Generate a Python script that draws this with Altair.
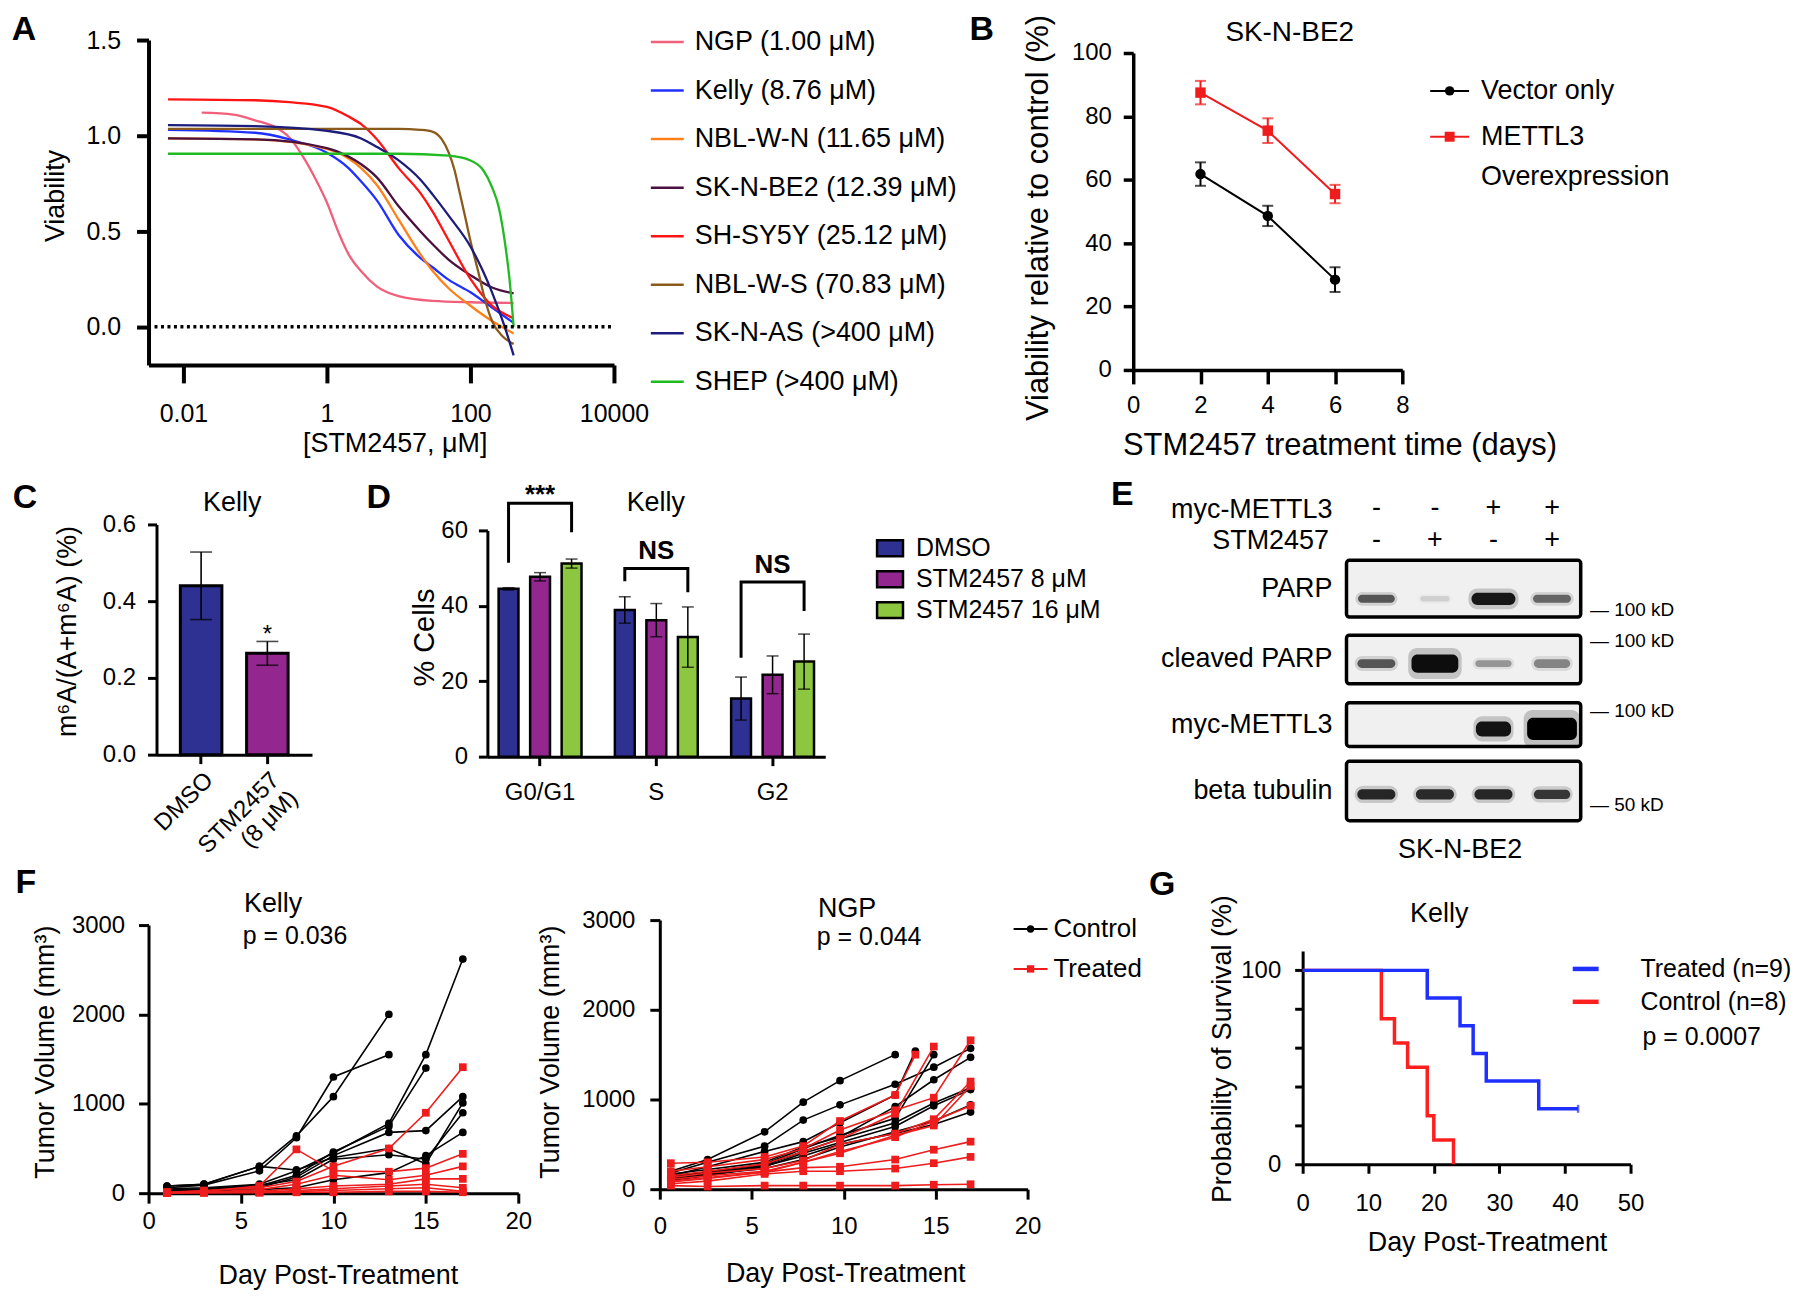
import altair as alt
import pandas as pd

FONT = "Liberation Sans"
ORIGIN = 8
ROW_W = 1625

# ===================== Panel A : dose-response =====================
a_names = ["NGP (1.00 μM)", "Kelly (8.76 μM)", "NBL-W-N (11.65 μM)", "SK-N-BE2 (12.39 μM)",
           "SH-SY5Y (25.12 μM)", "NBL-W-S (70.83 μM)", "SK-N-AS (>400 μM)", "SHEP (>400 μM)"]
a_colors = ["#f0607a", "#2030ff", "#ff8018", "#4a1040", "#ff1414", "#8a5a1c", "#1c1c7c", "#20bb20"]

ngp_dose = [0.018, 0.05, 0.1, 0.2, 0.3, 0.5, 0.7, 1, 1.5, 2, 3, 5, 10, 30, 100, 400]
ngp_via = [1.12, 1.11, 1.08, 1.04, 0.99, 0.87, 0.77, 0.65, 0.48, 0.38, 0.29, 0.21, 0.16, 0.135, 0.128, 0.125]
kelly_dose = [0.0061, 0.1, 0.3, 1, 2, 3, 5, 10, 20, 30, 50, 100, 200, 400]
kelly_via = [1.03, 1.015, 0.98, 0.91, 0.83, 0.76, 0.66, 0.48, 0.36, 0.31, 0.245, 0.18, 0.10, 0.02]
nblwn_dose = [0.0061, 0.1, 1, 2, 3, 5, 10, 20, 30, 50, 100, 200, 400]
nblwn_via = [0.985, 0.98, 0.93, 0.88, 0.83, 0.74, 0.56, 0.38, 0.29, 0.20, 0.11, 0.03, -0.035]
skbe2_dose = [0.0061, 0.1, 1, 2, 3, 5, 10, 20, 30, 50, 100, 200, 400]
skbe2_via = [0.985, 0.98, 0.935, 0.89, 0.85, 0.78, 0.63, 0.50, 0.43, 0.35, 0.27, 0.205, 0.175]
shsy_dose = [0.0061, 0.1, 0.3, 1, 2, 3, 5, 10, 20, 30, 50, 100, 200, 400]
shsy_via = [1.19, 1.185, 1.175, 1.15, 1.10, 1.06, 0.98, 0.83, 0.70, 0.60, 0.45, 0.25, 0.11, 0.045]
nblws_dose = [0.0061, 1, 10, 20, 30, 40, 50, 60, 70, 85, 100, 130, 160, 200, 280, 400]
nblws_via = [1.035, 1.035, 1.035, 1.03, 1.02, 0.98, 0.91, 0.82, 0.71, 0.57, 0.45, 0.28, 0.14, 0.03, -0.05, -0.09]
sknas_dose = [0.0061, 0.1, 1, 3, 5, 10, 20, 30, 50, 100, 150, 200, 300, 400]
sknas_via = [1.055, 1.05, 1.025, 0.985, 0.94, 0.87, 0.77, 0.69, 0.58, 0.42, 0.29, 0.18, 0.0, -0.15]
shep_dose = [0.0061, 10, 50, 100, 150, 200, 250, 300, 350, 400]
shep_via = [0.905, 0.905, 0.895, 0.87, 0.82, 0.73, 0.62, 0.45, 0.25, 0.0]
a_doses = [ngp_dose, kelly_dose, nblwn_dose, skbe2_dose, shsy_dose, nblws_dose, sknas_dose, shep_dose]
a_vias = [ngp_via, kelly_via, nblwn_via, skbe2_via, shsy_via, nblws_via, sknas_via, shep_via]

# ===================== Panel B =====================
b_days = [2, 4, 6]
b_vector = [61.8, 48.6, 28.5]
b_vector_err = [3.7, 3.2, 3.9]
b_mettl3 = [87.5, 75.5, 55.5]
b_mettl3_err = [3.7, 3.9, 2.9]

# ===================== Panel C =====================
c_groups = ["DMSO", "STM2457|(8 μM)"]
c_values = [0.44, 0.264]
c_err = [0.088, 0.031]
c_colors = ["#2e3192", "#93278f"]

# ===================== Panel D =====================
d_phases = ["G0/G1", "S", "G2"]
d_treats = ["DMSO", "STM2457 8 μM", "STM2457 16 μM"]
d_colors = ["#2e3192", "#93278f", "#8dc63f"]
d_values = [[44.5, 38.9, 15.4], [47.7, 36.2, 21.7], [51.2, 31.7, 25.2]]
d_err = [[0.3, 3.5, 5.7], [1.1, 4.4, 5.0], [1.2, 8.0, 7.3]]
d_sig = ["***", "NS", "NS"]
d_sig_y = [69.5, 54.4, 50.9]
d_bracket_top = [67.2, 49.9, 46.3]
d_bracket_left = [51.4, 46.5, 26.2]
d_bracket_right = [59.5, 43.6, 38.6]

# ===================== Panel E (western blot) =====================
e_rows = ["PARP", "cleaved PARP", "myc-METTL3", "beta tubulin"]
e_frame = [0.49, 4.49]
e_box_mid = [0.0, 1.05, 2.015, 3.0]
e_box_half = [0.42, 0.36, 0.325, 0.44]
e_band_mid = [0.15, 1.11, 2.08, 3.05]
e_lanes = [1, 2, 3, 4]
e_myc = ["-", "-", "+", "+"]
e_stm = ["-", "+", "-", "+"]
e_intensity = [[0.62, 0.12, 0.92, 0.55], [0.62, 0.96, 0.35, 0.42], [0.0, 0.0, 0.94, 1.0], [0.84, 0.82, 0.84, 0.76]]
e_band_w = [[0.63, 0.5, 0.75, 0.65], [0.65, 0.8, 0.62, 0.62], [0.0, 0.0, 0.6, 0.85], [0.65, 0.65, 0.65, 0.62]]
e_band_h = [[0.12, 0.08, 0.18, 0.12], [0.13, 0.27, 0.10, 0.13], [0.0, 0.0, 0.22, 0.33], [0.15, 0.15, 0.15, 0.14]]
e_kd_text = ["— 100 kD", "— 100 kD", "— 100 kD", "— 50 kD"]
e_kd_pos = [0.32, 0.78, 1.81, 3.21]

# ===================== Panel F (tumour volumes) =====================
f_kelly_days = [1, 3, 6, 8, 10, 13, 15, 17]
f_kelly_control = [
    [80, 100, 300, 640, 1080, 2000],
    [60, 90, 250, 620, 1300, 1550],
    [50, 60, 100, 250, 450, 780, 1550, 2620],
    [30, 40, 80, 200, 460, 750, 1400],
    [20, 30, 60, 180, 420, 680, 700, 1080],
    [80, 100, 300, 260, 400, 500, 330, 1010],
    [40, 50, 90, 150, 380, 430, 380, 900],
    [10, 20, 40, 60, 150, 230, 420, 680],
]
f_kelly_treated = [
    [10, 30, 60, 130, 300, 500, 900, 1410],
    [10, 20, 80, 490, 250, 240, 280, 440],
    [5, 10, 40, 100, 200, 150, 200, 300],
    [5, 10, 20, 50, 80, 100, 160, 160],
    [5, 10, 10, 30, 50, 80, 100, 60],
    [5, 5, 10, 20, 30, 50, 60, 20],
    [5, 5, 5, 10, 10, 20, 20, 10],
]
ngp_days_a = [0.6, 2.6, 5.7, 7.8, 9.8, 12.8, 14.9, 16.9]
ngp_days_b = [0.6, 2.6, 5.7, 7.8, 9.8, 12.8, 13.9]
f_ngp_control = [
    (ngp_days_a, [200, 330, 640, 970, 1210, 1500]),
    (ngp_days_a, [180, 300, 480, 770, 940, 1170, 1360, 1570]),
    (ngp_days_b, [150, 250, 420, 530, 740, 1050, 1540]),
    (ngp_days_a, [170, 220, 300, 470, 580, 920, 1220, 1470]),
    (ngp_days_a, [130, 190, 280, 450, 600, 790, 1500]),
    (ngp_days_a, [120, 160, 270, 420, 560, 740, 960, 1130]),
    (ngp_days_a, [100, 150, 250, 400, 520, 700, 930, 1110]),
    (ngp_days_a, [140, 170, 230, 330, 470, 640, 760, 940]),
    (ngp_days_a, [160, 180, 260, 370, 500, 620, 720, 860]),
]
f_ngp_treated = [
    (ngp_days_b, [290, 300, 360, 480, 760, 1050, 1500]),
    (ngp_days_a, [200, 250, 330, 450, 660, 880, 1020, 1660]),
    (ngp_days_a, [150, 200, 280, 420, 560, 840, 1590]),
    (ngp_days_a, [130, 180, 230, 320, 500, 620, 780, 1200]),
    (ngp_days_a, [110, 150, 200, 300, 400, 600, 710, 1150]),
    (ngp_days_a, [90, 130, 190, 300, 420, 580, 760, 930]),
    (ngp_days_a, [80, 120, 190, 240, 250, 330, 440, 530]),
    (ngp_days_a, [60, 90, 170, 200, 200, 230, 290, 360]),
    (ngp_days_a, [40, 30, 40, 40, 40, 40, 50, 55]),
]

# ===================== Panel G (survival) =====================
g_treated_day = [0, 19, 24, 26, 28, 36, 42]
g_treated_surv = [100, 85.7, 71.4, 57.1, 42.9, 28.6, 28.6]
g_control_day = [0, 12, 14, 16, 19, 20, 23]
g_control_surv = [100, 75, 62.5, 50, 25, 12.5, 0]


# ===================== helpers =====================
def one(**cols):
    return pd.DataFrame({k: [v] for k, v in cols.items()})


def blank(w, h):
    return alt.Chart(one(v=0)).mark_point(opacity=0).encode(
        x=alt.value(0), y=alt.value(0)).properties(width=w, height=h)


def txt(t, x, y, size=27, weight="normal", align="center", baseline="middle"):
    return alt.Chart(one(t=t)).mark_text(
        font=FONT, fontSize=size, fontWeight=weight, align=align, baseline=baseline, color="black"
    ).encode(x=alt.value(x), y=alt.value(y), text="t:N")


def seg(x1, x2, y, color, width=2.5):
    return alt.Chart(one(v=0)).mark_rule(color=color, strokeWidth=width).encode(
        x=alt.value(x1), x2=alt.value(x2), y=alt.value(y))


def dot(x, y, color, shape="circle", size=100, **kw):
    return alt.Chart(one(v=0)).mark_point(shape=shape, size=size, filled=True, color=color, opacity=1, **kw).encode(
        x=alt.value(x), y=alt.value(y))


def ax(values=None, title="", tx=None, ty=None, tsize=27, tick=10, pad=10, dw=3, fmt=None, lsize=24,
       angle=None, **kw):
    d = dict(title=title, tickSize=tick, labelPadding=pad, domainWidth=dw, tickWidth=dw,
             labelFontSize=lsize, titleFontSize=tsize, labelFlush=False, labelOverlap=False,
             titleAlign="center", titleBaseline="middle", grid=False, labelFont=FONT, titleFont=FONT,
             domainColor="black", tickColor="black", labelColor="black", titleColor="black")
    if values is not None:
        d["values"] = values
    if tx is not None:
        d["titleX"] = tx
    if ty is not None:
        d["titleY"] = ty
    if fmt:
        d["format"] = fmt
    if angle is not None:
        d["titleAngle"] = angle
    d.update(kw)
    return alt.Axis(**d)


# ===================== Panel A =====================
A_W, A_H = 467, 326


def panel_A(ox, oy, rowH):
    rows = []
    for name, col, ds, vs in zip(a_names, a_colors, a_doses, a_vias):
        for d, v in zip(ds, vs):
            rows.append(dict(name=name, col=col, dose=d, via=v))
    dfA = pd.DataFrame(rows)
    curves = alt.Chart(dfA).mark_line(strokeWidth=2.3, interpolate="monotone").encode(
        x=alt.X("dose:Q", scale=alt.Scale(type="log", domain=[0.00327, 10000], nice=False, range=[ox, ox + A_W]),
                axis=ax([0.01, 1, 100, 10000], "[STM2457, μM]", tx=ox + 247, ty=79, tick=18, pad=19, dw=4,
                        fmt="~g", lsize=25, orient="bottom", offset=oy + A_H - rowH)),
        y=alt.Y("via:Q", scale=alt.Scale(domain=[-0.2, 1.5], nice=False, zero=False, range=[oy + A_H, oy]),
                axis=ax([0, 0.5, 1, 1.5], "Viability", tx=-93, ty=oy + 156, tick=12, pad=16, dw=4, fmt=".1f",
                        lsize=25, angle=270, orient="left", offset=-ox)),
        stroke=alt.Stroke("col:N", scale=None),
        detail="name:N",
    )
    zero = alt.Chart(one(via=0.0)).mark_rule(strokeDash=[3, 3.5], strokeWidth=3.5, color="black").encode(
        y=alt.Y("via:Q", title="Viability"), x=alt.value(ox + 6), x2=alt.value(ox + A_W))
    pix = [txt("A", ox - 125, oy - 10, 34, "bold")]
    for i, (name, col) in enumerate(zip(a_names, a_colors)):
        yy = oy + 2 + i * 48.7
        pix += [seg(ox + 504, ox + 537, yy, col, 2.5), txt(name, ox + 548, yy, size=27, align="left")]
    return [alt.layer(curves, zero)] + pix


# ===================== Panel B =====================
B_W, B_H = 270, 318
B_YT = "Viability relative to control (%)"


def panel_B(ox, oy, rowH):
    rows = []
    for ser, vals, errs, col, shp in [("Vector only", b_vector, b_vector_err, "#000000", "circle"),
                                      ("METTL3 Overexpression", b_mettl3, b_mettl3_err, "#ee1c1c", "square")]:
        for d, v, e in zip(b_days, vals, errs):
            rows.append(dict(ser=ser, day=d, val=v, lo=v - e, hi=v + e, col=col, shp=shp))
    dfB = pd.DataFrame(rows)
    xB = alt.X("day:Q", scale=alt.Scale(domain=[0, 8], nice=False, zero=False, range=[ox, ox + B_W]),
               axis=ax([0, 2, 4, 6, 8], "STM2457 treatment time (days)", tx=ox + 207, ty=76, tsize=31, tick=14,
                       pad=10, dw=3.5, fmt="d", orient="bottom", offset=oy + B_H - rowH))
    yB = alt.Y("val:Q", scale=alt.Scale(domain=[0, 100], nice=False, range=[oy + B_H, oy]),
               axis=ax([0, 20, 40, 60, 80, 100], B_YT, tx=-95, ty=oy + 165, tsize=31, tick=10, pad=12, dw=3.5,
                       fmt="d", angle=270, orient="left", offset=-ox))
    base = alt.Chart(dfB)
    line = base.mark_line(strokeWidth=2).encode(x=xB, y=yB, stroke=alt.Stroke("col:N", scale=None),
                                                 detail="ser:N")
    err = base.mark_rule(strokeWidth=2).encode(x="day:Q", y=alt.Y("lo:Q", title=B_YT), y2="hi:Q",
                                               stroke=alt.Stroke("col:N", scale=None))
    caps = [base.mark_tick(orient="horizontal", size=11, thickness=2).encode(
        x="day:Q", y=alt.Y(f"{f}:Q", title=B_YT), color=alt.Color("col:N", scale=None)) for f in ["lo", "hi"]]
    pts = base.mark_point(filled=True, size=110, opacity=1).encode(
        x="day:Q", y=alt.Y("val:Q", title=B_YT), color=alt.Color("col:N", scale=None),
        shape=alt.Shape("shp:N", scale=None))
    pix = [txt("B", ox - 152, oy - 23, 34, "bold"), txt("SK-N-BE2", ox + 157, oy - 20, 28),
           seg(ox + 298, ox + 337, oy + 38, "#000000", 2), dot(ox + 317.5, oy + 38, "#000000", "circle", 90),
           txt("Vector only", ox + 349, oy + 38, 27, align="left"),
           seg(ox + 298, ox + 337, oy + 84, "#ee1c1c", 2), dot(ox + 317.5, oy + 84, "#ee1c1c", "square", 100),
           txt("METTL3", ox + 349, oy + 84, 27, align="left"),
           txt("Overexpression", ox + 349, oy + 124, 27, align="left")]
    return [alt.layer(line, err, *caps, pts)] + pix


# ===================== Panel C =====================
C_W, C_H = 156, 231
C_YT = "m⁶A/(A+m⁶A) (%)"


def panel_C(ox, oy, rowH):
    dfC = pd.DataFrame({"grp": c_groups, "val": c_values,
                        "lo": [v - e for v, e in zip(c_values, c_err)],
                        "hi": [v + e for v, e in zip(c_values, c_err)], "col": c_colors})
    xC = alt.X("grp:N", sort=c_groups,
               scale=alt.Scale(paddingInner=0.373, paddingOuter=0.36, range=[ox, ox + C_W]),
               axis=ax(None, "", tick=9, pad=4, dw=3, labelAngle=315, labelAlign="right", labelBaseline="top",
                       labelExpr="split(datum.label, '|')", labelLineHeight=26, orient="bottom",
                       offset=oy + C_H - rowH))
    yC = alt.Y("val:Q", scale=alt.Scale(domain=[0, 0.6], nice=False, range=[oy + C_H, oy]),
               axis=ax([0, 0.2, 0.4, 0.6], C_YT, tx=-89, ty=oy + 107, tick=9, pad=12, dw=3, fmt=".1f", angle=270,
                       orient="left", offset=-ox))
    bars = alt.Chart(dfC).mark_bar(stroke="black", strokeWidth=3).encode(
        x=xC, y=yC, fill=alt.Fill("col:N", scale=None))
    err = alt.Chart(dfC).mark_rule(strokeWidth=1.6, color="black").encode(
        x=alt.X("grp:N", sort=c_groups), y=alt.Y("lo:Q", title=C_YT), y2="hi:Q")
    caps = [alt.Chart(dfC).mark_tick(orient="horizontal", size=22, thickness=1.6, color="black").encode(
        x=alt.X("grp:N", sort=c_groups), y=alt.Y(f"{f}:Q", title=C_YT)) for f in ["lo", "hi"]]
    star = alt.Chart(one(grp=c_groups[1], val=0.311, t="*")).mark_text(
        fontSize=24, font=FONT, color="black").encode(
        x=alt.X("grp:N", sort=c_groups), y=alt.Y("val:Q", title=C_YT), text="t:N")
    pix = [txt("C", ox - 132, oy - 26, 34, "bold"), txt("Kelly", ox + 76, oy - 21, 27)]
    return [alt.layer(bars, err, *caps, star)] + pix


# ===================== Panel D =====================
D_W, D_H = 339, 227
D_YT = "% Cells"


def panel_D(ox, oy, rowH):
    rows = []
    for ti, (t, col) in enumerate(zip(d_treats, d_colors)):
        for pi, p in enumerate(d_phases):
            v = d_values[ti][pi]
            e = d_err[ti][pi]
            rows.append(dict(phase=p, treat=t, val=v, lo=v - e, hi=v + e, col=col))
    dfD = pd.DataFrame(rows)
    rows = []
    for pi, p in enumerate(d_phases):
        pts = [(d_treats[0], d_bracket_left[pi]), (d_treats[0], d_bracket_top[pi]),
               (d_treats[2], d_bracket_top[pi]), (d_treats[2], d_bracket_right[pi])]
        for k, (t, yv) in enumerate(pts):
            rows.append(dict(phase=p, treat=t, val=yv, k=k))
    dfBr = pd.DataFrame(rows)
    dfSig = pd.DataFrame({"phase": d_phases, "val": d_sig_y, "t": d_sig})
    xD = alt.X("phase:N", sort=d_phases,
               scale=alt.Scale(paddingInner=0.287, paddingOuter=0.0966, range=[ox, ox + D_W]),
               axis=ax(None, "", tick=9, pad=15, dw=3, labelAngle=0, orient="bottom", offset=oy + D_H - rowH))
    xo = alt.XOffset("treat:N", sort=d_treats, scale=alt.Scale(paddingInner=0.37, paddingOuter=0))
    yD = alt.Y("val:Q", scale=alt.Scale(domain=[0, 60], nice=False, range=[oy + D_H, oy]),
               axis=ax([0, 20, 40, 60], D_YT, tx=-63, ty=oy + 107, tsize=29, tick=9, pad=11, dw=3, angle=270,
                       fmt="d", orient="left", offset=-ox))
    xs = alt.X("phase:N", sort=d_phases)
    xos = alt.XOffset("treat:N", sort=d_treats)
    bars = alt.Chart(dfD).mark_bar(stroke="black", strokeWidth=2.5).encode(
        x=xD, xOffset=xo, y=yD, fill=alt.Fill("col:N", scale=None))
    err = alt.Chart(dfD).mark_rule(strokeWidth=1.5, color="black").encode(
        x=xs, xOffset=xos, y=alt.Y("lo:Q", title=D_YT), y2="hi:Q")
    caps = [alt.Chart(dfD).mark_tick(orient="horizontal", size=12, thickness=1.5, color="black").encode(
        x=xs, xOffset=xos, y=alt.Y(f"{f}:Q", title=D_YT)) for f in ["lo", "hi"]]
    br = alt.Chart(dfBr).mark_line(strokeWidth=3, color="black").encode(
        x=xs, xOffset=xos, y=alt.Y("val:Q", title=D_YT), detail="phase:N", order="k:Q")
    sig = alt.Chart(dfSig).mark_text(fontSize=26, font=FONT, color="black", fontWeight="bold").encode(
        x=xs, y=alt.Y("val:Q", title=D_YT), text="t:N")
    pix = [txt("D", ox - 109, oy - 32, 34, "bold"), txt("Kelly", ox + 169, oy - 27, 27)]
    for i, (t, col) in enumerate(zip(d_treats, d_colors)):
        yy = oy + 18 + 31 * i
        pix.append(alt.Chart(one(v=0)).mark_point(
            shape="M-1.625,-1H1.625V1H-1.625Z", size=256, filled=True, fill=col, stroke="black",
            strokeWidth=2.5, opacity=1).encode(x=alt.value(ox + 404), y=alt.value(yy)))
        pix.append(txt(t, ox + 430, yy, 25, align="left"))
    return [alt.layer(bars, err, *caps, br, sig)] + pix


# ===================== Panel E =====================
E_W, E_H = 235, 261


def panel_E(ox, oy, rowH):
    xE = alt.Scale(domain=[0.49, 4.49], nice=False, zero=False, range=[ox, ox + E_W])
    yE = alt.Scale(domain=[-0.421, 3.436], nice=False, zero=False, range=[oy, oy + E_H])
    dfBox = pd.DataFrame({"row": e_rows, "x1": [e_frame[0]] * 4, "x2": [e_frame[1]] * 4,
                          "y1": [m - h for m, h in zip(e_box_mid, e_box_half)],
                          "y2": [m + h for m, h in zip(e_box_mid, e_box_half)]})
    boxes = alt.Chart(dfBox).mark_rect(fill="#f0f0f0", stroke="black", strokeWidth=3.5, cornerRadius=3).encode(
        x=alt.X("x1:Q", scale=xE, axis=None), x2="x2:Q", y=alt.Y("y1:Q", scale=yE, axis=None), y2="y2:Q")
    rows = []
    for r in range(4):
        for li, lane in enumerate(e_lanes):
            w = e_band_w[r][li]
            h = e_band_h[r][li]
            if w <= 0:
                continue
            rows.append(dict(lane=lane, yc=e_band_mid[r], w=w, h=h, inten=e_intensity[r][li]))
    dfBand = pd.DataFrame(rows)
    fillE = alt.Fill("inten:Q", scale=alt.Scale(domain=[0, 1], range=["#f0f0f0", "#000000"]), legend=None)
    halo = alt.Chart(dfBand).transform_calculate(
        x1="datum.lane - datum.w * 0.57", x2="datum.lane + datum.w * 0.57",
        y1="datum.yc - datum.h * 0.85", y2="datum.yc + datum.h * 0.85").mark_rect(
        opacity=0.2, cornerRadius=9).encode(
        x=alt.X("x1:Q", axis=None), x2="x2:Q", y=alt.Y("y1:Q", axis=None), y2="y2:Q", fill=fillE)
    core = alt.Chart(dfBand).transform_calculate(
        x1="datum.lane - datum.w / 2", x2="datum.lane + datum.w / 2",
        y1="datum.yc - datum.h / 2", y2="datum.yc + datum.h / 2").mark_rect(cornerRadius=6).encode(
        x=alt.X("x1:Q", axis=None), x2="x2:Q", y=alt.Y("y1:Q", axis=None), y2="y2:Q", fill=fillE)

    def etext(df, size=27, align="center"):
        return alt.Chart(df).mark_text(font=FONT, fontSize=size, align=align, baseline="middle",
                                       color="black").encode(
            x=alt.X("x:Q", axis=None), y=alt.Y("y:Q", axis=None), text="t:N")

    rowLab = etext(pd.DataFrame({"t": e_rows, "x": [0.25] * 4, "y": e_box_mid}), 27, "right")
    headLab = etext(pd.DataFrame({"t": ["myc-METTL3", "STM2457"], "x": [0.25, 0.19], "y": [-1.16, -0.70]}),
                    27, "right")
    signs = etext(pd.DataFrame({"t": e_myc + e_stm, "x": e_lanes + e_lanes,
                                "y": [-1.2] * 4 + [-0.72] * 4}), 27)
    kd = etext(pd.DataFrame({"t": e_kd_text, "x": [4.65] * 4, "y": e_kd_pos}), 19, "left")
    cap = etext(pd.DataFrame({"t": ["SK-N-BE2"], "x": [2.43], "y": [3.88]}), 27)
    pix = [txt("E", ox - 225, oy - 65, 34, "bold")]
    return [alt.layer(boxes, halo, core, rowLab, headLab, signs, kd, cap)] + pix


# ===================== Panel F =====================
def tumor_rows(pairs, col, shp, prefix):
    out = []
    for i, (ds, vs) in enumerate(pairs):
        for d, v in zip(ds, vs):
            out.append(dict(mouse=f"{prefix}{i}", day=d, vol=v, col=col, shp=shp))
    return pd.DataFrame(out)


F_YT = "Tumor Volume (mm³)"


def panel_F(ctrl_df, trt_df, W, H, ox, oy, rowH, ytx, yty, xtx, xty, xpad, ypad):
    xF = alt.X("day:Q", scale=alt.Scale(domain=[0, 20], nice=False, zero=False, range=[ox, ox + W]),
               axis=ax([0, 5, 10, 15, 20], "Day Post-Treatment", tx=ox + xtx, ty=xty, tsize=27, tick=10, pad=xpad,
                       dw=3, fmt="d", orient="bottom", offset=oy + H - rowH))
    yF = alt.Y("vol:Q", scale=alt.Scale(domain=[0, 3000], nice=False, range=[oy + H, oy]),
               axis=ax([0, 1000, 2000, 3000], F_YT, tx=ytx, ty=oy + yty, tsize=27, tick=10, pad=ypad, dw=3,
                       angle=270, fmt="d", orient="left", offset=-ox))
    lc = alt.Chart(ctrl_df).mark_line(strokeWidth=1.6).encode(
        x=xF, y=yF, stroke=alt.Stroke("col:N", scale=None), detail="mouse:N")
    lt = alt.Chart(trt_df).mark_line(strokeWidth=1.6).encode(
        x="day:Q", y=alt.Y("vol:Q", title=F_YT), stroke=alt.Stroke("col:N", scale=None), detail="mouse:N")
    pts = [alt.Chart(df).mark_point(filled=True, size=60, opacity=1).encode(
        x="day:Q", y=alt.Y("vol:Q", title=F_YT), color=alt.Color("col:N", scale=None),
        shape=alt.Shape("shp:N", scale=None)) for df in (ctrl_df, trt_df)]
    return alt.layer(lc, pts[0], lt, pts[1])


dfKC = tumor_rows([(f_kelly_days, v) for v in f_kelly_control], "#000000", "circle", "kc")
dfKT = tumor_rows([(f_kelly_days, v) for v in f_kelly_treated], "#ee1c1c", "square", "kt")
dfNC = tumor_rows(f_ngp_control, "#000000", "circle", "nc")
dfNT = tumor_rows(f_ngp_treated, "#ee1c1c", "square", "nt")


def panel_F1(ox, oy, rowH):
    W, H = 371, 269
    lay = panel_F(dfKC, dfKT, W, H, ox, oy, rowH, -103, 127, 190, 83, 6, 14)
    pix = [txt("F", ox - 123, oy - 42, 34, "bold"), txt("Kelly", ox + 125, oy - 21, 27),
           txt("p = 0.036", ox + 147, oy + 11, 25)]
    return [lay] + pix


def panel_F2(ox, oy, rowH):
    W, H = 369, 270
    lay = panel_F(dfNC, dfNT, W, H, ox, oy, rowH, -110, 132, 186, 85, 15, 15)
    pix = [txt("NGP", ox + 188, oy - 11, 27), txt("p = 0.044", ox + 210, oy + 17, 25),
           seg(ox + 355, ox + 389, oy + 9, "#000000", 2), dot(ox + 372, oy + 9, "#000000", "circle", 55),
           txt("Control", ox + 395, oy + 9, 26, align="left"),
           seg(ox + 355, ox + 389, oy + 49, "#ee1c1c", 2), dot(ox + 372, oy + 49, "#ee1c1c", "square", 55),
           txt("Treated", ox + 395, oy + 49, 26, align="left")]
    return [lay] + pix


# ===================== Panel G =====================
G_W, G_H = 329, 214
G_YT = "Probability of Survival (%)"


def panel_G(ox, oy, rowH):
    dfGC = pd.DataFrame({"day": g_control_day, "surv": g_control_surv})
    dfGT = pd.DataFrame({"day": g_treated_day, "surv": g_treated_surv})
    xG = alt.X("day:Q", scale=alt.Scale(domain=[0, 50], nice=False, zero=False, range=[ox, ox + G_W]),
               axis=ax([0, 10, 20, 30, 40, 50], "Day Post-Treatment", tx=ox + 185, ty=79, tsize=27, tick=9,
                       pad=18, dw=3, fmt="d", orient="bottom", offset=oy + G_H - rowH))
    yG = alt.Y("surv:Q", scale=alt.Scale(domain=[0, 110], nice=False, range=[oy + G_H, oy]),
               axis=ax(list(range(0, 111, 10)), G_YT, tx=-80, ty=oy + 98, tsize=27, tick=8, pad=14, dw=3,
                       angle=270, labelExpr="datum.value % 50 === 0 ? datum.label : ''", fmt="d",
                       orient="left", offset=-ox))
    ctrl = alt.Chart(dfGC).mark_line(interpolate="step-after", strokeWidth=3.5, color="#ff1f1f").encode(
        x=xG, y=yG)
    trt = alt.Chart(dfGT).mark_line(interpolate="step-after", strokeWidth=3.5, color="#1f2fff").encode(
        x="day:Q", y=alt.Y("surv:Q", title=G_YT))
    cens = alt.Chart(dfGT.tail(1)).mark_tick(orient="vertical", size=8, thickness=2.5, color="#1f2fff").encode(
        x="day:Q", y=alt.Y("surv:Q", title=G_YT))
    pix = [txt("G", ox - 141, oy - 66, 34, "bold"), txt("Kelly", ox + 137, oy - 37, 27),
           seg(ox + 271, ox + 297, oy + 18, "#1f2fff", 4.5),
           txt("Treated (n=9)", ox + 339, oy + 18, 25, align="left"),
           seg(ox + 271, ox + 297, oy + 51, "#ff1f1f", 4.5),
           txt("Control (n=8)", ox + 339, oy + 51, 25, align="left"),
           txt("p = 0.0007", ox + 341, oy + 86, 25, align="left")]
    return [alt.layer(ctrl, trt, cens)] + pix


# ===================== layout: one view per row, panels placed by scale ranges =====================
def build_row(top, height, panels):
    layers = []
    for fn, px, py in panels:
        layers += fn(px - ORIGIN, py - top, height)
    return (alt.layer(*layers)
            .resolve_scale(x="independent", y="independent")
            .resolve_axis(x="independent", y="independent")
            .properties(width=ROW_W, height=height))


rows_spec = [
    (35, 331, [(panel_A, 146, 35), (panel_B, 1134, 48)]),
    (521, 297, [(panel_C, 154, 521), (panel_D, 486, 527), (panel_E, 1348, 557)]),
    (918, 274, [(panel_F1, 146, 923), (panel_F2, 659, 918), (panel_G, 1304, 949)]),
]
stack = []
cur_y = ORIGIN
for top, height, panels in rows_spec:
    if top - cur_y > 0:
        stack.append(blank(1, top - cur_y))
    stack.append(build_row(top, height, panels))
    cur_y = top + height

chart = (alt.vconcat(*stack, spacing=0, bounds="flush")
         .properties(padding=0)
         .configure(font=FONT)
         .configure_view(stroke=None)
         .configure_axis(grid=False, titleFontWeight="normal"))

chart.save("out.html", embed_options={"renderer": "svg", "actions": False})
